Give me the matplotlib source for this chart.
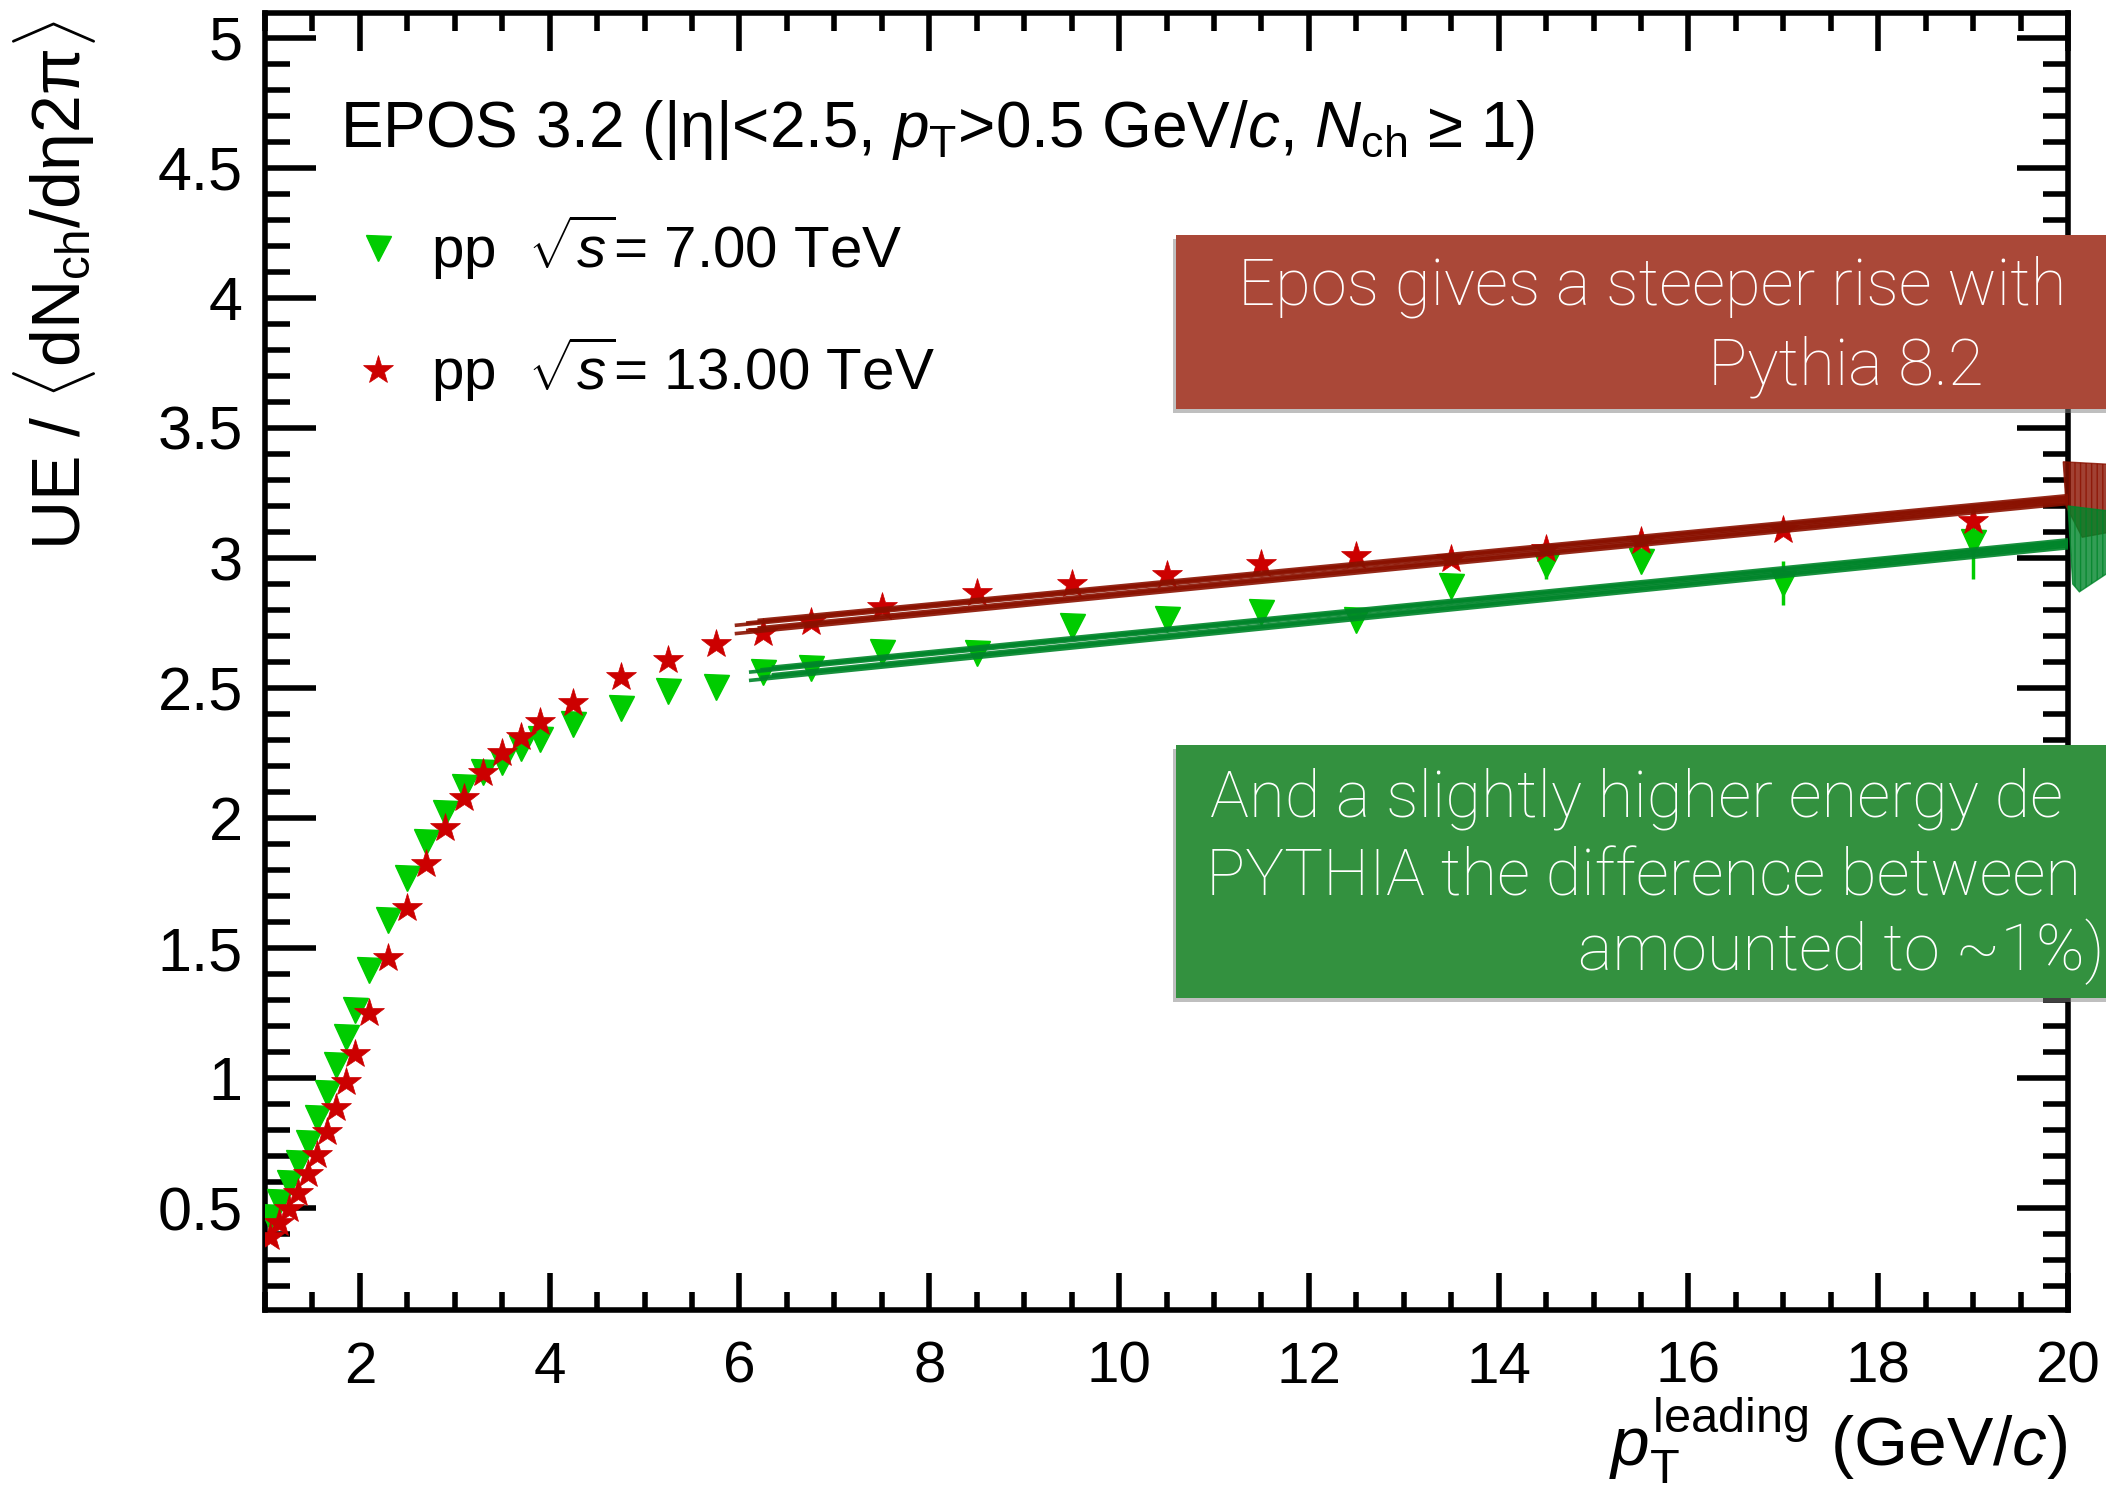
import matplotlib
matplotlib.use("Agg")
import matplotlib.pyplot as plt
import matplotlib.patheffects as pe
from matplotlib.patches import Rectangle
from matplotlib.ticker import MultipleLocator, FuncFormatter

# -----------------------------------------
# Data: UE / <dNch/deta 2pi> vs leading pT (EPOS 3.2)
# -----------------------------------------
pt_leading = [1.05, 1.15, 1.25, 1.35, 1.45, 1.55, 1.65, 1.75, 1.85, 1.95,
              2.1, 2.3, 2.5, 2.7, 2.9, 3.1, 3.3, 3.5, 3.7, 3.9,
              4.25, 4.75, 5.25, 5.75, 6.25, 6.75,
              7.5, 8.5, 9.5, 10.5, 11.5, 12.5, 13.5, 14.5, 15.5,
              17, 19]

ue_7tev = [0.467, 0.524, 0.595, 0.672, 0.751, 0.845, 0.944, 1.050, 1.157, 1.262,
           1.415, 1.608, 1.768, 1.909, 2.018, 2.121, 2.178, 2.217, 2.268, 2.303,
           2.362, 2.422, 2.490, 2.505, 2.560, 2.576,
           2.640, 2.633, 2.737, 2.766, 2.792, 2.761, 2.892, 2.975, 2.990,
           2.905, 3.060]

ue_13tev = [0.387, 0.441, 0.495, 0.557, 0.630, 0.704, 0.793, 0.883, 0.986, 1.092,
            1.249, 1.460, 1.653, 1.823, 1.960, 2.076, 2.172, 2.251, 2.313, 2.370,
            2.443, 2.544, 2.608, 2.670, 2.710, 2.755,
            2.813, 2.864, 2.900, 2.935, 2.978, 3.006, 2.995, 3.033, 3.064,
            3.107, 3.141]

err_7tev = [0] * 33 + [0.055, 0, 0.085, 0.14]

# hand-drawn trend strokes (start / end points)
red_trend_x = [5.95, 20.0]
red_trend_y = [2.735, 3.225]
green_trend_x = [6.1, 20.0]
green_trend_y = [2.555, 3.055]

# scribbles at the right edge
red_scribble_x = [19.95, 20.45, 20.45, 20.15, 19.98]
red_scribble_y = [3.37, 3.36, 3.10, 3.08, 3.20]
green_scribble_x = [20.0, 20.45, 20.45, 20.12, 20.05]
green_scribble_y = [3.20, 3.18, 2.95, 2.87, 2.90]

legend_title = (r"EPOS 3.2 (|$\mathrm{\eta}$|<2.5, $p_{\mathrm{T}}$>0.5 GeV/$c$, "
                r"$N_{\mathrm{ch}}$ ≥ 1)")
label_7 = r"pp  $\sqrt{s}$= 7.00 TeV"
label_13 = r"pp  $\sqrt{s}$= 13.00 TeV"

red_note = ["Epos gives a steeper rise with", "Pythia 8.2"]
green_note = ["And a slightly higher energy de",
              "PYTHIA the difference between",
              "amounted to ~1%)"]

# -----------------------------------------
# Style
# -----------------------------------------
plt.rcParams["font.family"] = ["Liberation Sans", "DejaVu Sans"]
plt.rcParams["mathtext.fontset"] = "custom"
plt.rcParams["mathtext.rm"] = "Liberation Sans"
plt.rcParams["mathtext.it"] = "Liberation Sans:italic"
plt.rcParams["mathtext.bf"] = "Liberation Sans:bold"

GREEN = "#00cc00"
RED = "#cc0000"
DARK_RED = "#8a1100"
DARK_GREEN = "#00852a"

fig = plt.figure(figsize=(21.06, 14.92), dpi=100)
ax = fig.add_axes([265 / 2106, 182 / 1492, 1803 / 2106, 1297 / 1492])

ax.errorbar(pt_leading, ue_7tev, yerr=err_7tev, fmt="none", ecolor=GREEN,
            elinewidth=2.5, capsize=0, zorder=3)
h7, = ax.plot(pt_leading, ue_7tev, "v", color=GREEN, ms=18, mec=GREEN,
              zorder=3, label=label_7)
h13, = ax.plot(pt_leading, ue_13tev, "*", color=RED, ms=22, mec=RED, mew=0.5,
               zorder=4, label=label_13)

# sketchy trend bands
offsets = [-0.026, -0.014, -0.004, 0.006, 0.015, 0.025]
for i, d in enumerate(offsets):
    dx = 0.12 * (i % 3)
    ax.plot([red_trend_x[0] + dx, red_trend_x[1]],
            [red_trend_y[0] + d, red_trend_y[1] + d * 0.6],
            color=DARK_RED, lw=2.6, alpha=0.9, solid_capstyle="butt", zorder=5)
    ax.plot([green_trend_x[0] + dx, green_trend_x[1]],
            [green_trend_y[0] + d, green_trend_y[1] + d * 0.6],
            color=DARK_GREEN, lw=2.6, alpha=0.9, solid_capstyle="butt", zorder=5)

ax.fill(red_scribble_x, red_scribble_y, facecolor=DARK_RED, alpha=0.8,
        edgecolor=DARK_RED, hatch="|||", clip_on=False, zorder=6)
ax.fill(green_scribble_x, green_scribble_y, facecolor=DARK_GREEN, alpha=0.8,
        edgecolor=DARK_GREEN, hatch="|||", clip_on=False, zorder=6)

# axes, ROOT style
ax.set_xlim(1, 20)
ax.set_ylim(0.108, 5.096)
ax.xaxis.set_major_locator(MultipleLocator(2))
ax.xaxis.set_minor_locator(MultipleLocator(0.5))
ax.yaxis.set_major_locator(MultipleLocator(0.5))
ax.yaxis.set_minor_locator(MultipleLocator(0.1))
ax.yaxis.set_major_formatter(FuncFormatter(lambda v, p: "%g" % v))
ax.tick_params(which="both", direction="in", top=True, right=True, width=4)
ax.tick_params(axis="x", which="major", length=27, pad=22, labelsize=42)
ax.tick_params(axis="x", which="minor", length=13)
ax.tick_params(axis="y", which="major", length=37, pad=16, labelsize=44)
ax.tick_params(axis="y", which="minor", length=18)
for s in ax.spines.values():
    s.set_linewidth(4)

ax.set_xlabel(r"$p_{\mathrm{T}}^{\mathrm{leading}}$ (GeV/$c$)", fontsize=50,
              loc="right")
ax.xaxis.set_label_coords(1.0, -0.066)
ax.xaxis.label.set_va("top")
ax.set_ylabel(r"UE / $\langle\mathrm{dN}_{\mathrm{ch}}/\mathrm{d\eta2\pi}\rangle$",
              fontsize=49, loc="top")
ax.yaxis.set_label_coords(-0.117, 0.9946)
ax.yaxis.label.set_va("center")

# legend
fig.text(340 / 2106, 1 - 147 / 1492, legend_title, fontsize=46, va="baseline")
ax.legend(handles=[h7, h13], loc="upper left",
          bbox_to_anchor=(349 / 2106, 1 - 213 / 1492),
          bbox_transform=fig.transFigure, frameon=False, fontsize=42,
          handlelength=1.0, handletextpad=0.4, labelspacing=0.9,
          borderpad=0, borderaxespad=0, numpoints=1)

# note boxes
shadow = [pe.SimplePatchShadow(offset=(-2, -3), shadow_rgbFace="gray", alpha=0.5),
          pe.Normal()]
red_box = Rectangle((1176 / 2106, 1 - 409 / 1492), 1000 / 2106, 174 / 1492,
                    transform=fig.transFigure, facecolor="#aa4838",
                    edgecolor="none", zorder=10, path_effects=shadow)
green_box = Rectangle((1176 / 2106, 1 - 998 / 1492), 1000 / 2106, 253 / 1492,
                      transform=fig.transFigure, facecolor="#33913f",
                      edgecolor="none", zorder=10, path_effects=shadow)
fig.add_artist(red_box)
fig.add_artist(green_box)

note_font = dict(family=["Roboto", "DejaVu Sans"], fontweight="light",
                 color="white", fontsize=47, va="baseline", zorder=11)
fig.text(1238 / 2106, 1 - 305 / 1492, red_note[0], **note_font)
fig.text(1708 / 2106, 1 - 384 / 1492, red_note[1], **note_font)
fig.text(1210 / 2106, 1 - 817 / 1492, green_note[0], **note_font)
fig.text(1206 / 2106, 1 - 895 / 1492, green_note[1], **note_font)
fig.text(1578 / 2106, 1 - 970 / 1492, green_note[2], **note_font)

fig.savefig("out.png", dpi=100)
